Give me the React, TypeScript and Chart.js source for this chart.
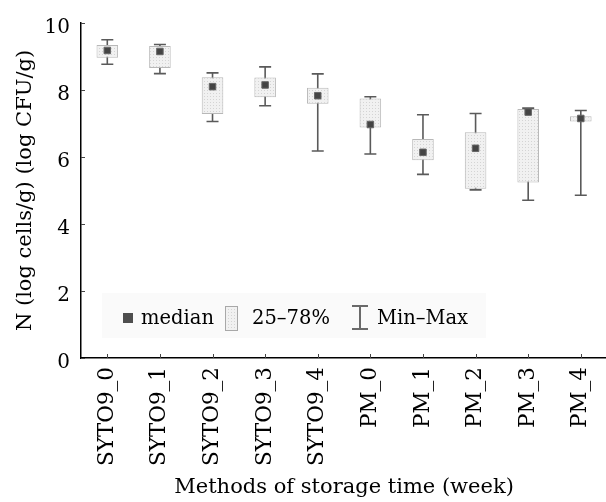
import React, { useEffect, useRef } from "react";
import { Chart, registerables } from "chart.js";
Chart.register(...registerables);

const categories = ["SYTO9_0", "SYTO9_1", "SYTO9_2", "SYTO9_3", "SYTO9_4", "PM_0", "PM_1", "PM_2", "PM_3", "PM_4"];
const minValues = [8.77, 8.49, 7.06, 7.53, 6.18, 6.09, 5.48, 5.02, 4.71, 4.86];
const q1Values = [8.96, 8.66, 7.28, 7.78, 7.59, 6.88, 5.9, 5.05, 5.24, 7.06];
const q3Values = [9.34, 9.31, 8.38, 8.37, 8.07, 7.75, 6.54, 6.74, 7.43, 7.22];
const maxValues = [9.5, 9.36, 8.51, 8.69, 8.48, 7.8, 7.26, 7.3, 7.46, 7.39];
const medianValues = [9.18, 9.15, 8.1, 8.15, 7.83, 6.97, 6.14, 6.26, 7.34, 7.15];
const yMin = 0;
const yMax = 10;
const yStep = 2;
const legendLabels = ["median", "25\u201378%", "Min\u2013Max"];
const xTitle = "Methods of storage time (week)";
const yTitle = "N (log cells/g) (log CFU/g)";

const FONT = "'DejaVu Serif', serif";

function makePattern(): CanvasPattern | string {
  const c = document.createElement("canvas");
  c.width = 3;
  c.height = 3;
  const g = c.getContext("2d");
  if (!g) return "#eeeeee";
  g.fillStyle = "#f1f1f1";
  g.fillRect(0, 0, 3, 3);
  g.fillStyle = "#d4d4d4";
  g.fillRect(0, 0, 1, 1);
  const p = g.createPattern(c, "repeat");
  return p || "#eeeeee";
}

export default function App() {
  const ref = useRef<HTMLCanvasElement | null>(null);
  useEffect(() => {
    if (!ref.current) return;
    const pattern = makePattern();

    const whiskerPlugin = {
      id: "whiskers",
      beforeDatasetsDraw(chart: any) {
        const { ctx, scales } = chart;
        const xs = scales.x;
        const ys = scales.y;
        ctx.save();
        ctx.strokeStyle = "#5a5a5a";
        ctx.lineWidth = 1.6;
        categories.forEach((_, i) => {
          const x = xs.getPixelForValue(i);
          const y1 = ys.getPixelForValue(minValues[i]);
          const y2 = ys.getPixelForValue(maxValues[i]);
          ctx.beginPath();
          ctx.moveTo(x, y1);
          ctx.lineTo(x, y2);
          ctx.moveTo(x - 6, y1);
          ctx.lineTo(x + 6, y1);
          ctx.moveTo(x - 6, y2);
          ctx.lineTo(x + 6, y2);
          ctx.stroke();
        });
        ctx.restore();
      },
      afterDraw(chart: any) {
        const { ctx, scales, chartArea } = chart;
        const xs = scales.x;
        const ys = scales.y;
        ctx.save();
        // inward ticks
        ctx.strokeStyle = "#444";
        ctx.lineWidth = 1;
        for (let v = yMin; v <= yMax; v += yStep) {
          const y = Math.round(ys.getPixelForValue(v)) + 0.5;
          ctx.beginPath();
          ctx.moveTo(chartArea.left, y);
          ctx.lineTo(chartArea.left + 4, y);
          ctx.stroke();
        }
        categories.forEach((_, i) => {
          const x = Math.round(xs.getPixelForValue(i)) + 0.5;
          ctx.beginPath();
          ctx.moveTo(x, chartArea.bottom);
          ctx.lineTo(x, chartArea.bottom - 4);
          ctx.stroke();
        });
        // legend
        ctx.fillStyle = "#fafafa";
        ctx.fillRect(102, 293, 384, 45);
        ctx.fillStyle = "#4e4e4e";
        ctx.fillRect(123, 313, 10, 10);
        ctx.fillStyle = "#000";
        ctx.font = "19.5px " + FONT;
        ctx.textBaseline = "alphabetic";
        ctx.fillText(legendLabels[0], 141, 324);
        ctx.fillStyle = pattern as any;
        ctx.fillRect(225, 306, 12, 24);
        ctx.strokeStyle = "#a8a8a8";
        ctx.lineWidth = 1;
        ctx.strokeRect(225.5, 306.5, 12, 24);
        ctx.fillStyle = "#000";
        ctx.fillText(legendLabels[1], 252, 324);
        ctx.strokeStyle = "#6a6a6a";
        ctx.lineWidth = 2;
        ctx.beginPath();
        ctx.moveTo(360, 306);
        ctx.lineTo(360, 329);
        ctx.moveTo(352, 306);
        ctx.lineTo(368, 306);
        ctx.moveTo(352, 329);
        ctx.lineTo(368, 329);
        ctx.stroke();
        ctx.fillStyle = "#000";
        ctx.fillText(legendLabels[2], 377, 324);
        ctx.restore();
      },
    };

    const chart = new Chart(ref.current, {
      type: "bar",
      data: {
        labels: categories,
        datasets: [
          {
            type: "line",
            data: medianValues,
            showLine: false,
            pointStyle: "rect",
            pointRadius: 4.6,
            backgroundColor: "#444444",
            borderColor: "#666666",
            borderWidth: 1,
            order: 0,
          } as any,
          {
            type: "bar",
            data: categories.map((_, i) => [q1Values[i], q3Values[i]]),
            backgroundColor: pattern as any,
            borderColor: "#b8b8b8",
            borderWidth: 1,
            borderSkipped: false,
            categoryPercentage: 1,
            barPercentage: 0.41,
            order: 1,
          } as any,
        ],
      },
      options: {
        responsive: false,
        animation: false,
        devicePixelRatio: 1,
        layout: { padding: { left: 0, right: 8, top: 17, bottom: 0 } },
        plugins: { legend: { display: false }, tooltip: { enabled: false } },
        scales: {
          x: {
            type: "category",
            offset: true,
            grid: { display: false, drawTicks: false },
            border: { display: true, color: "#000", width: 1.5 },
            ticks: {
              color: "#000",
              font: { family: FONT, size: 21.5 },
              minRotation: 90,
              maxRotation: 90,
              padding: 9,
              autoSkip: false,
            },
            title: {
              display: true,
              text: xTitle,
              color: "#000",
              font: { family: FONT, size: 21 },
              padding: { top: 0, bottom: 2 },
            },
            afterFit: (s: any) => {
              s.height = 144;
            },
          },
          y: {
            min: yMin,
            max: yMax,
            grid: { display: false, drawTicks: false },
            border: { display: true, color: "#000", width: 1.5 },
            ticks: {
              stepSize: yStep,
              color: "#000",
              font: { family: FONT, size: 20 },
              padding: 11,
              labelOffset: 5,
            },
            title: {
              display: true,
              text: yTitle,
              color: "#000",
              font: { family: FONT, size: 21 },
              padding: { top: 13, bottom: 0 },
            },
            afterFit: (s: any) => {
              s.width = 81;
            },
          },
        },
      },
      plugins: [whiskerPlugin],
    });
    return () => chart.destroy();
  }, []);

  return (
    <div style={{ position: "fixed", left: 0, top: 0, width: 606, height: 502, overflow: "hidden", background: "#fff" }}>
      <canvas ref={ref} width={616} height={502} style={{ display: "block" }} />
    </div>
  );
}
